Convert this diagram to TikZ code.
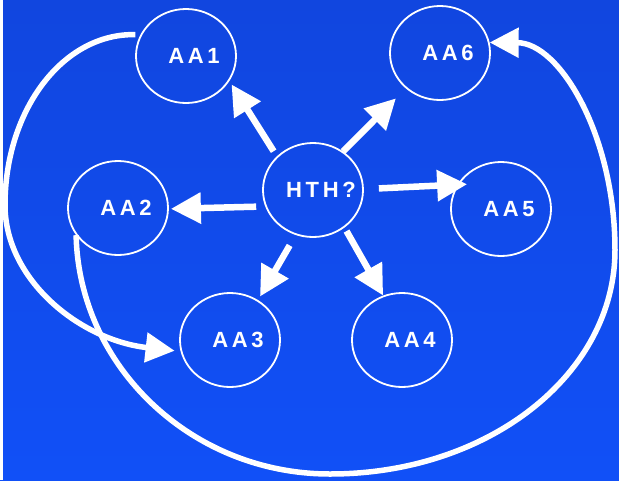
\documentclass[tikz,border=0pt]{standalone}
\usepackage{fontspec}
\setmainfont{Liberation Sans}
\usepackage{tikz}
\usetikzlibrary{arrows.meta,shapes.geometric}
\definecolor{bgtop}{HTML}{1146DF}
\definecolor{bgbot}{HTML}{1150F7}
\newcommand{\lbl}[1]{\makebox[0pt]{\hspace*{16pt}\addfontfeature{LetterSpace=17}#1}}

\begin{document}
\begin{tikzpicture}[
  x=1pt, y=-1pt,
  font=\fontsize{22}{26}\selectfont\bfseries,
  ell/.style={draw=white, line width=1.8pt, ellipse, inner sep=0pt,
    minimum width=100pt, minimum height=94pt, text=white},
  arr/.style={draw=white, line width=6.5pt, -{Triangle[length=30pt,width=30pt]}},
  swing/.style={draw=white, line width=5.5pt, -{Triangle[length=29pt,width=29pt]}}]
\useasboundingbox (0,0) rectangle (619,480);
\shade[top color=bgtop, bottom color=bgbot] (0,0) rectangle (619,480);
\fill[white] (0,0) rectangle (3,480);
\node[ell] (AA1) at (186,56) {\lbl{AA1}};
\node[ell] (AA6) at (440,53) {\lbl{AA6}};
\node[ell] (HTH) at (313,190) {\lbl{HTH?}};
\node[ell] (AA2) at (118,208) {\lbl{AA2}};
\node[ell] (AA5) at (501,209) {\lbl{AA5}};
\node[ell] (AA3) at (230,340) {\lbl{AA3}};
\node[ell] (AA4) at (402,340) {\lbl{AA4}};
\draw[arr, shorten <=6pt, shorten >=4pt] (HTH.137) -- (AA1.-30);
\draw[arr, shorten >=14pt] (HTH.52) -- (AA6.-134);
\draw[arr, shorten <=9pt, shorten >=2pt] (HTH.-161) -- (AA2.-1);
\draw[arr, shorten <=15pt, shorten >=-10pt] (HTH.1) -- (AA5.151);
\draw[arr, shorten <=12pt, shorten >=4pt] (HTH.-111) -- (AA3.55);
\draw[arr, shorten <=4pt] (HTH.-50) -- (AA4.113);
% the two long bends
\draw[swing, shorten <=5pt, shorten >=6pt] (AA1.155) .. controls (63,33) and (5,110) .. (5,205)
  .. controls (5,280) and (80,340) .. (AA3.-167);
\draw[swing] (AA2.-147) .. controls (79,366) and (191,474) .. (330,474)
  .. controls (489,474) and (615,374) .. (615,250)
  .. controls (615,136) and (560,43) .. (AA6.12);
\end{tikzpicture}
\end{document}
